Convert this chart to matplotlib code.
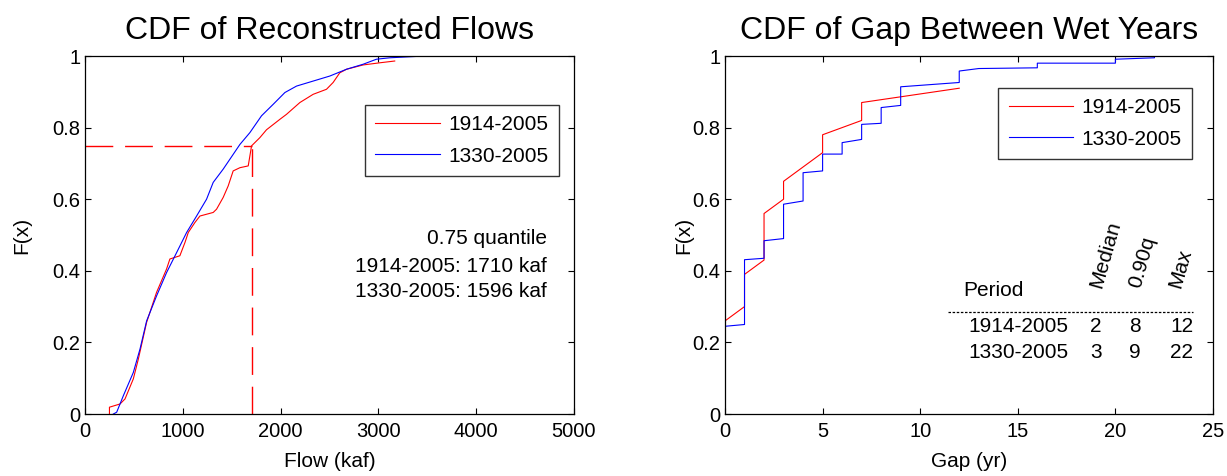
import matplotlib
matplotlib.use("Agg")
import matplotlib.pyplot as plt

plt.rcParams['font.family'] = ['Liberation Sans', 'DejaVu Sans']

# ---------------- data: left panel (CDF of reconstructed flows) ----------------
flow_1914_x = [250, 250, 358, 409, 494, 545, 630, 732, 834, 868, 970, 1022, 1056, 1124,
               1175, 1311, 1345, 1413, 1464, 1515, 1584, 1669, 1703, 1788, 1856, 1992,
               2060, 2197, 2333, 2469, 2537, 2605, 2674, 2844, 3014, 3167]
flow_1914_F = [0.0, 0.019, 0.028, 0.042, 0.098, 0.153, 0.256, 0.34, 0.405, 0.433, 0.442,
               0.479, 0.507, 0.535, 0.553, 0.563, 0.572, 0.605, 0.637, 0.679, 0.688,
               0.693, 0.749, 0.772, 0.794, 0.823, 0.837, 0.87, 0.893, 0.907, 0.926,
               0.953, 0.963, 0.975, 0.981, 0.986]
flow_1330_x = [290, 324, 392, 494, 562, 630, 732, 834, 937, 1039, 1141, 1243, 1311, 1413,
               1584, 1686, 1805, 1924, 2044, 2163, 2333, 2503, 2674, 2844, 2980, 3116,
               3474, 4274]
flow_1330_F = [0.0, 0.005, 0.051, 0.116, 0.181, 0.26, 0.33, 0.395, 0.451, 0.507, 0.553,
               0.6, 0.647, 0.684, 0.753, 0.786, 0.833, 0.865, 0.898, 0.916, 0.93, 0.944,
               0.963, 0.977, 0.991, 0.995, 1.0, 1.0]
q_level = 0.75
q_1914 = 1710
q_1330 = 1596

# ---------------- data: right panel (CDF of gap between wet years) ----------------
gap_1914_x = [0, 1, 1, 2, 2, 3, 3, 5, 5, 7, 7, 12]
gap_1914_F = [0.26, 0.30, 0.39, 0.43, 0.56, 0.60, 0.65, 0.73, 0.78, 0.82, 0.87, 0.91]
gap_1330_x = [0, 0, 1, 1, 2, 2, 3, 3, 4, 4, 5, 5, 6, 6, 7, 7, 8, 8, 9, 9, 12, 12, 13,
              16, 16, 20, 20, 22, 22]
gap_1330_F = [0.0, 0.245, 0.25, 0.431, 0.435, 0.484, 0.49, 0.586, 0.595, 0.674, 0.679,
              0.726, 0.726, 0.758, 0.767, 0.809, 0.812, 0.856, 0.862, 0.914, 0.926,
              0.958, 0.965, 0.967, 0.98, 0.98, 0.991, 0.995, 1.0]

periods = ['1914-2005', '1330-2005']
table_cols = ['Median', '0.90q', 'Max']
table_median = [2, 3]
table_q90 = [8, 9]
table_max = [12, 22]

RED = (1, 0, 0)
BLUE = (0, 0, 1)

fig = plt.figure(figsize=(12.27, 4.76), dpi=100)
W, H = 1227, 476
TOP, BOT = 56, 414
ax1 = fig.add_axes([85 / W, 1 - BOT / H, (574 - 85) / W, (BOT - TOP) / H])
ax2 = fig.add_axes([725 / W, 1 - BOT / H, (1213 - 725) / W, (BOT - TOP) / H])

for ax in (ax1, ax2):
    ax.tick_params(direction='in', length=4, width=0.8, top=True, right=True,
                   labelsize=14.5, colors='black')
    ax.tick_params(axis='x', pad=6)
    ax.tick_params(axis='y', pad=3.5)
    for s in ax.spines.values():
        s.set_linewidth(0.9)
    ax.set_ylim(0, 1)
    ax.set_yticks([0, 0.2, 0.4, 0.6, 0.8, 1])
    ax.set_yticklabels(['0', '0.2', '0.4', '0.6', '0.8', '1'])
    ax.set_ylabel('F(x)', fontsize=15)

ax1.yaxis.set_label_coords((31 - 85) / 489, 0.5)
ax2.yaxis.set_label_coords((693 - 725) / 488, 0.5)

# ---- left panel ----
ax1.plot(flow_1914_x, flow_1914_F, color=RED, lw=0.8, label=periods[0])
ax1.plot(flow_1330_x, flow_1330_F, color=BLUE, lw=0.8, label=periods[1])
ax1.plot([0, q_1914], [q_level, q_level], color=RED, lw=1, dashes=(20, 8.5))
ax1.plot([q_1914, q_1914], [0, q_level], color=RED, lw=1, dashes=(20, 8.5))
ax1.set_xlim(0, 5000)
ax1.set_xticks([0, 1000, 2000, 3000, 4000, 5000])
ax1.set_xlabel('Flow (kaf)', fontsize=15, labelpad=8)
ax1.set_title('CDF of Reconstructed Flows', fontsize=23, pad=12)
leg_kw = dict(loc='upper right', fontsize=15, frameon=True, fancybox=False,
              edgecolor='black', handlelength=3.1, handletextpad=0.4,
              borderpad=0.5, labelspacing=0.6, borderaxespad=0)
leg1 = ax1.legend(bbox_to_anchor=(0.969, 0.864), **leg_kw)
leg1.get_frame().set_linewidth(1.0)
ax1.text(4724, 0.489, '0.75 quantile', ha='right', va='center', fontsize=15)
ax1.text(4724, 0.413, f'{periods[0]}: {q_1914} kaf', ha='right', va='center', fontsize=15)
ax1.text(4724, 0.341, f'{periods[1]}: {q_1330} kaf', ha='right', va='center', fontsize=15)

# ---- right panel ----
ax2.plot(gap_1914_x, gap_1914_F, color=RED, lw=0.8, label=periods[0])
ax2.plot(gap_1330_x, gap_1330_F, color=BLUE, lw=0.8, label=periods[1])
ax2.set_xlim(0, 25)
ax2.set_xticks([0, 5, 10, 15, 20, 25])
ax2.set_xlabel('Gap (yr)', fontsize=15, labelpad=8)
ax2.set_title('CDF of Gap Between Wet Years', fontsize=23, pad=12)
leg2 = ax2.legend(bbox_to_anchor=(0.957, 0.911), **leg_kw)
leg2.get_frame().set_linewidth(1.0)

# table
ax2.text(12.2, 0.344, 'Period', ha='left', va='center', fontsize=15)
for xh, lab in zip([19.3, 21.3, 23.3], table_cols):
    ax2.text(xh, 0.35, lab, ha='left', va='baseline', rotation=74,
             rotation_mode='anchor', fontsize=15)
ax2.plot([11.4, 24.0], [0.286, 0.286], color='black', lw=0.9, ls=(0, (2, 1.3)))
for yy, per, m, q, mx in zip([0.245, 0.172], periods, table_median, table_q90, table_max):
    ax2.text(17.6, yy, per, ha='right', va='center', fontsize=15)
    ax2.text(19.0, yy, str(m), ha='center', va='center', fontsize=15)
    ax2.text(21.0, yy, str(q), ha='center', va='center', fontsize=15)
    ax2.text(24.0, yy, str(mx), ha='right', va='center', fontsize=15)

fig.savefig('out.png', dpi=100)
